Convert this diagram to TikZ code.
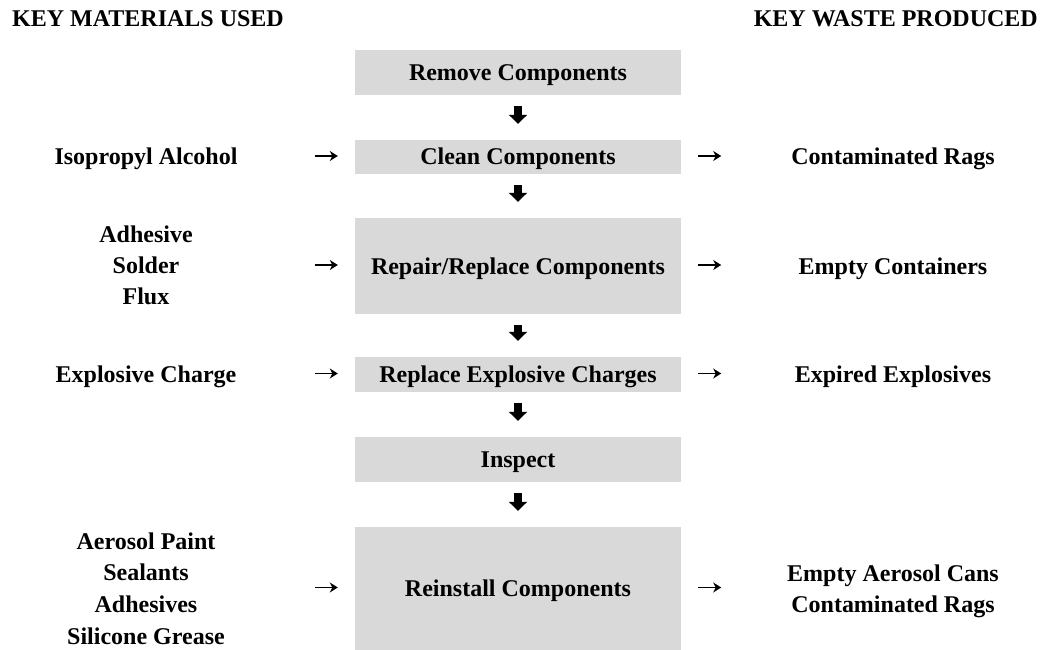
\documentclass[tikz,border=0pt]{standalone}
\usepackage{fontspec}
\setmainfont{Liberation Serif}
\usetikzlibrary{arrows.meta}
\definecolor{boxgray}{HTML}{D9D9D9}
\begin{document}
\begin{tikzpicture}[x=1pt,y=-1pt,
  every node/.style={font=\bfseries\fontsize{24}{31}\selectfont, inner sep=0pt},
  proc/.style={fill=boxgray, minimum width=326pt, text height=16pt, text depth=0pt},
  lbl/.style={text height=16pt, text depth=0pt},
  multi/.style={align=center},
  flow/.style={line width=8pt, -{Triangle[length=9pt,width=18pt]},
               shorten <=11pt, shorten >=16pt},
  feed/.style={line width=1.3pt, -{Stealth[length=8pt,width=10pt,inset=2.5pt]}}
]
\useasboundingbox (0,0) rectangle (1042,650);

% column headings
\node[anchor=base west] (hmat) at (12,27) {KEY MATERIALS USED};
\node[anchor=base east] (hwaste) at (1038,27) {KEY WASTE PRODUCED};

% process steps
\node[proc, minimum height=45pt]  (remove)  at (518,72.5)  {Remove Components};
\node[proc, minimum height=34pt]  (clean)   at (518,157)   {Clean Components};
\node[proc, minimum height=96pt]  (repair)  at (518,266)   {Repair/Replace Components};
\node[proc, minimum height=35pt]  (replace) at (518,374.5) {Replace Explosive Charges};
\node[proc, minimum height=45pt]  (inspect) at (518,459.5) {Inspect};
\node[proc, minimum height=123pt] (reinst)  at (518,588.5) {Reinstall Components};

% flow between steps
\draw[flow] (remove)  -- (clean);
\draw[flow] (clean)   -- (repair);
\draw[flow] (repair)  -- (replace);
\draw[flow] (replace) -- (inspect);
\draw[flow] (inspect) -- (reinst);

% materials used
\node[lbl] (m1) at (146,157) {Isopropyl Alcohol};
\node[multi] (m2) at (146,265) {Adhesive\\Solder\\Flux};
\node[lbl] (m3) at (146,374.5) {Explosive Charge};
\node[multi, font=\bfseries\fontsize{24}{31.7}\selectfont] (m4) at (146,588.5)
  {Aerosol Paint\\Sealants\\Adhesives\\Silicone Grease};

% waste produced
\node[lbl] (w1) at (893,157) {Contaminated Rags};
\node[lbl] (w2) at (893,266) {Empty Containers};
\node[lbl] (w3) at (893,374.5) {Expired Explosives};
\node[multi] (w4) at (893,591) {Empty Aerosol Cans\\Contaminated Rags};

% inputs and outputs
\foreach \s in {clean,repair,replace,reinst}{
  \draw[feed] ([shift={(-40pt,1pt)}]\s.west) -- ([shift={(-17pt,1pt)}]\s.west);
  \draw[feed] ([shift={(17pt,1pt)}]\s.east) -- ([shift={(40pt,1pt)}]\s.east);
}
\end{tikzpicture}
\end{document}
